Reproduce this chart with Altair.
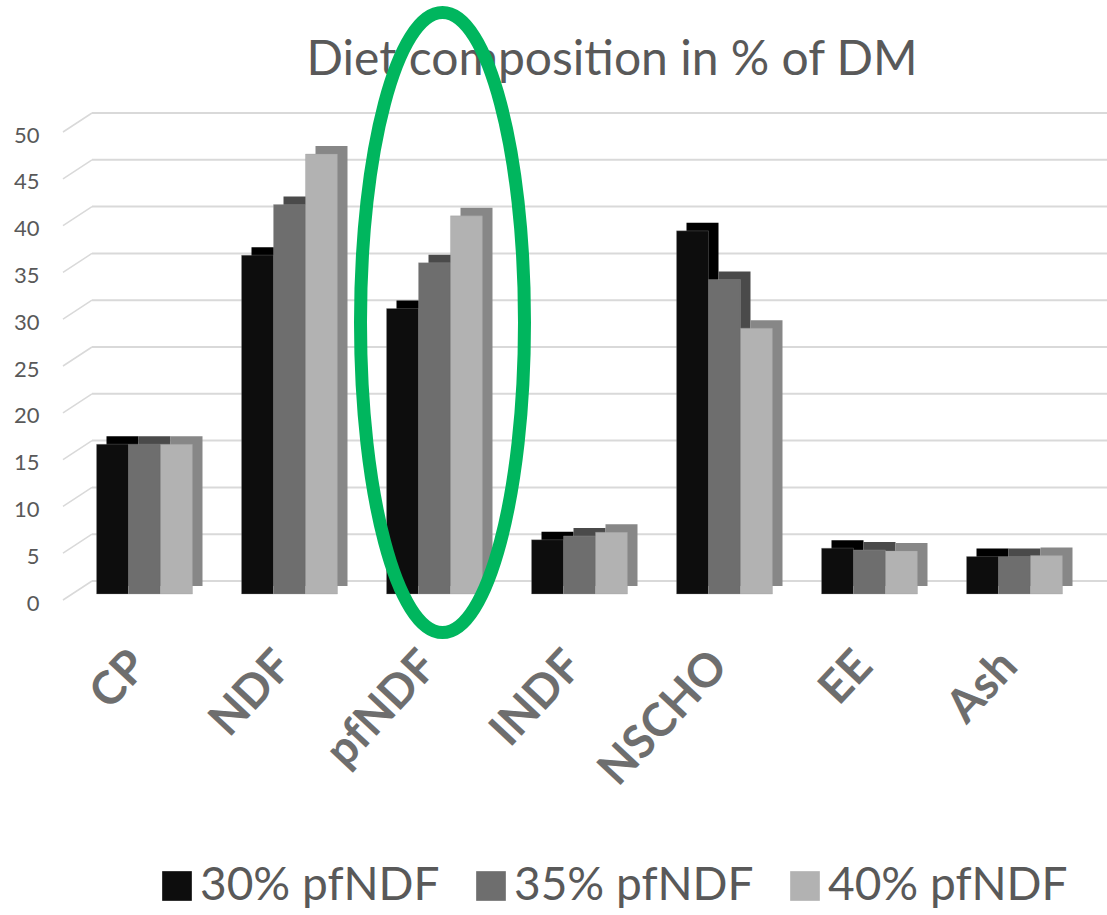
import altair as alt
import pandas as pd

# ---- data ----
categories = ["CP", "NDF", "pfNDF", "INDF", "NSCHO", "EE", "Ash"]
series = ["30% pfNDF", "35% pfNDF", "40% pfNDF"]
values_30 = [16.0, 36.2, 30.5, 5.8, 38.8, 4.9, 4.0]
values_35 = [16.0, 41.6, 35.4, 6.2, 33.6, 4.7, 4.0]
values_40 = [16.0, 47.0, 40.4, 6.6, 28.4, 4.6, 4.1]
y_ticks = [0, 5, 10, 15, 20, 25, 30, 35, 40, 45, 50]
title_text = "Diet composition in % of DM"
highlight_category = ["pfNDF"]
highlight_center = [29]

front_colors = ["#0d0d0d", "#6e6e6e", "#b2b2b2"]
side_colors = ["#000000", "#4a4a4a", "#878787"]

rows = []
for i, c in enumerate(categories):
    for s, vals, sc in zip(series, [values_30, values_35, values_40], side_colors):
        rows.append({"category": c, "series": s, "value": vals[i], "side": sc})
df = pd.DataFrame(rows)
grid_df = pd.DataFrame({"tick": y_ticks})
ell_df = pd.DataFrame({"category": highlight_category, "value": highlight_center})
title_df = pd.DataFrame({"t": [title_text]})

W, H = 1015, 468
FONT = "Lato"

xscale = alt.Scale(domain=categories, paddingInner=0.338, paddingOuter=0.169)
yscale = alt.Scale(domain=[0, 50], nice=False, zero=True)
offscale = alt.Scale(domain=series, paddingInner=0, paddingOuter=0)
shadow_offscale = alt.Scale(domain=series, range=[10, 106], paddingInner=0, paddingOuter=0)

x_axis = alt.Axis(
    title=None, labelAngle=-47, labelAlign="right", labelBaseline="middle",
    labelFontSize=46, labelFontWeight="bold", labelFont=FONT, labelColor="#6e6e6e",
    labelPadding=64, labelOffset=-5, ticks=False, domain=False, grid=False,
    labelLimit=400,
)
y_axis = alt.Axis(
    title=None, values=y_ticks, labelFontSize=22, labelFont=FONT, labelColor="#595959",
    labelPadding=33, labelOffset=9, ticks=False, domain=False, grid=False,
)

X = lambda: alt.X("category:N", scale=xscale, sort=categories, axis=x_axis)

grid = alt.Chart(grid_df).mark_rule(color="#d9d9d9", strokeWidth=2, yOffset=-13).encode(
    y=alt.Y("tick:Q", scale=yscale, axis=y_axis),
    x=alt.value(20),
    x2=alt.value(W + 20),
)

diag = alt.Chart(grid_df).mark_rule(
    color="#d9d9d9", strokeWidth=1.5, yOffset=6, y2Offset=-13
).encode(
    y=alt.Y("tick:Q", scale=yscale, axis=y_axis),
    y2=alt.Y2("tick:Q"),
    x=alt.value(-9),
    x2=alt.value(20),
)

shadow = alt.Chart(df).mark_bar(yOffset=-8, y2Offset=-8).encode(
    x=X(),
    xOffset=alt.XOffset("series:N", sort=series, scale=shadow_offscale),
    y=alt.Y("value:Q", scale=yscale, axis=y_axis),
    color=alt.Color("side:N", scale=None),
)

front = alt.Chart(df).mark_bar(stroke="#9a9a9a", strokeWidth=0.6, strokeOpacity=0.5).encode(
    x=X(),
    xOffset=alt.XOffset("series:N", sort=series, scale=offscale),
    y=alt.Y("value:Q", scale=yscale, axis=y_axis),
    color=alt.Color(
        "series:N", sort=series,
        scale=alt.Scale(domain=series, range=front_colors),
        legend=alt.Legend(
            orient="none", legendX=82, legendY=737, direction="horizontal",
            title=None, symbolType="square", symbolSize=880, symbolStrokeWidth=0,
            labelFontSize=46, labelFont=FONT, labelColor="#595959", labelOffset=0,
            columnPadding=28, padding=0, labelLimit=400,
        ),
    ),
)

title = alt.Chart(title_df).mark_text(
    font=FONT, fontSize=48, color="#595959", baseline="alphabetic", align="center"
).encode(text="t:N", x=alt.value(540), y=alt.value(-51))

rx = 82 / 310
k = 0.5523
ell_path = (
    f"M0,-1 C{k*rx:.4f},-1 {rx:.4f},{-k:.4f} {rx:.4f},0 "
    f"C{rx:.4f},{k:.4f} {k*rx:.4f},1 0,1 "
    f"C{-k*rx:.4f},1 {-rx:.4f},{k:.4f} {-rx:.4f},0 "
    f"C{-rx:.4f},{-k:.4f} {-k*rx:.4f},-1 0,-1 Z"
)
ellipse = alt.Chart(ell_df).mark_point(
    shape=ell_path, size=(2 * 310) ** 2, filled=False, stroke="#00b65e",
    strokeWidth=13, opacity=1, xOffset=8,
).encode(
    x=X(),
    y=alt.Y("value:Q", scale=yscale, axis=y_axis),
)

chart = alt.layer(grid, diag, shadow, front, title, ellipse).resolve_scale(
    xOffset="independent"
).properties(
    width=W, height=H,
    autosize=alt.AutoSizeParams(type="none"),
    padding={"left": 72, "top": 126, "right": 20, "bottom": 321},
    background="white",
).configure_view(stroke=None)

chart.save("out.html", embed_options={"renderer": "svg", "actions": False})
